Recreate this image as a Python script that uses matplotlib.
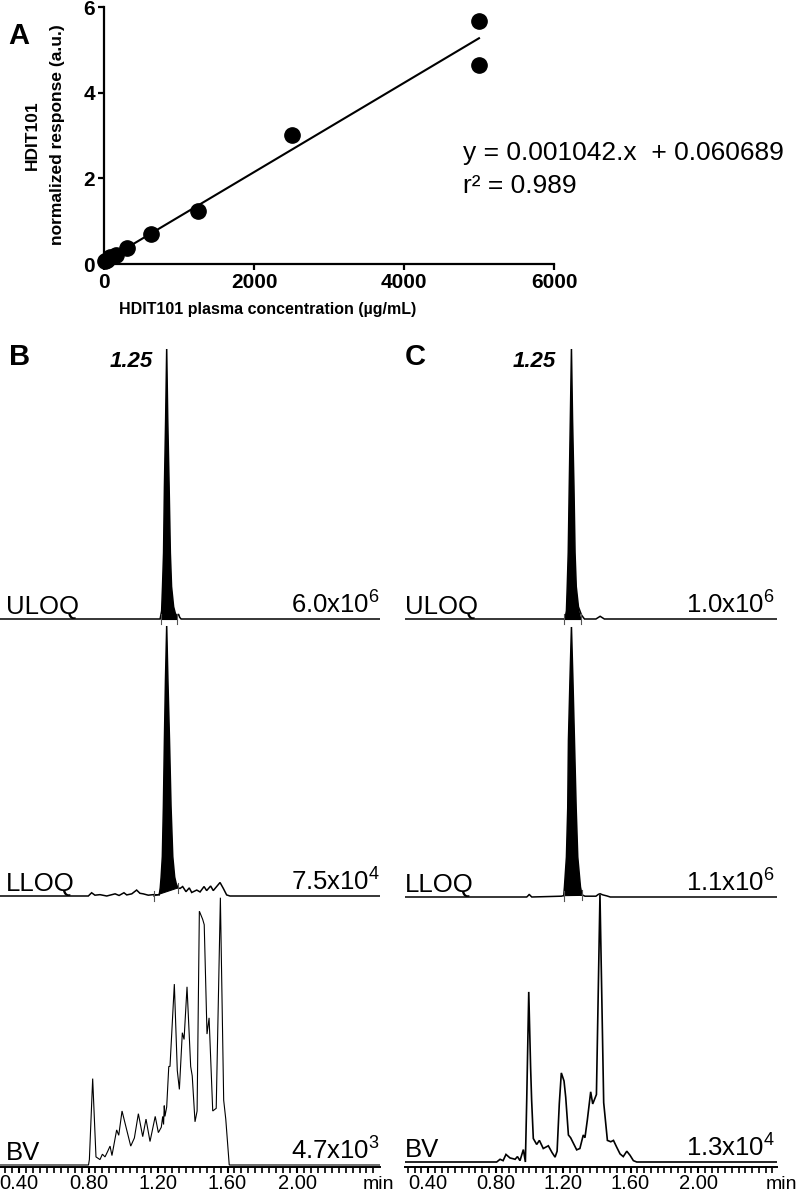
import numpy as np
import matplotlib
matplotlib.use("Agg")
import matplotlib.pyplot as plt
from matplotlib.ticker import MultipleLocator, FixedLocator

plt.rcParams['font.family'] = ['Liberation Sans', 'DejaVu Sans']
plt.rcParams['mathtext.fontset'] = 'custom'
plt.rcParams['mathtext.rm'] = 'Liberation Sans'
plt.rcParams['mathtext.it'] = 'Liberation Sans:italic'
plt.rcParams['mathtext.bf'] = 'Liberation Sans:bold'

# ---------------- Panel A data ----------------
conc = [19.5, 39, 78, 156, 312.5, 625, 1250, 2500, 5000, 5000]
resp = [0.07, 0.10, 0.16, 0.22, 0.37, 0.70, 1.24, 3.02, 5.67, 4.65]
fit_x = [0, 5000]
fit_y = [0.0607, 5.2707]
a_xticks = [0, 2000, 4000, 6000]
a_yticks = [0, 2, 4, 6]
eq_text = "y = 0.001042.x  + 0.060689"
r2_text = "r\u00b2 = 0.989"

# ---------------- Panel B chromatograms (time min, normalized intensity) ----------------
b_uloq_t = [0.29, 1.212, 1.221, 1.226, 1.232, 1.237, 1.244, 1.250, 1.256, 1.264, 1.271, 1.278,
            1.290, 1.300, 1.310, 1.318, 1.325, 1.333, 2.478]
b_uloq_h = [0, 0, 0.03, 0.12, 0.245, 0.49, 0.74, 1.0, 0.74, 0.49, 0.245, 0.12,
            0.045, 0.02, 0.012, 0.018, 0.006, 0, 0]
b_uloq_int = [1.215, 1.312]
b_uloq_base = [0.0, 0.0]

b_lloq_t = [0.29, 0.799, 0.818, 0.837, 0.866, 0.905, 0.953, 0.976, 1.004, 1.020, 1.049, 1.077,
            1.096, 1.115, 1.144, 1.173, 1.207, 1.213, 1.218, 1.225, 1.231, 1.237, 1.243, 1.250,
            1.257, 1.266, 1.275, 1.285, 1.296, 1.305, 1.315, 1.327, 1.342, 1.361, 1.380, 1.394,
            1.423, 1.442, 1.465, 1.480, 1.503, 1.518, 1.557, 1.576, 1.595, 1.614, 2.478]
b_lloq_h = [0, 0, 0.012, 0.003, 0.005, 0.0, 0.008, 0.002, 0.012, 0.004, 0.008, 0.022,
            0.01, 0.008, 0.003, 0.005, 0.004, 0.03, 0.07, 0.146, 0.33, 0.58, 0.8, 1.0,
            0.8, 0.58, 0.33, 0.146, 0.07, 0.045, 0.03, 0.028, 0.035, 0.016, 0.03, 0.013,
            0.022, 0.015, 0.035, 0.02, 0.037, 0.02, 0.05, 0.028, 0.004, 0, 0]
b_lloq_int = [1.175, 1.315]
b_lloq_base = [0.0, 0.03]

b_bv_t = [0.29, 0.800, 0.805, 0.824, 0.843, 0.866, 0.880, 0.895, 0.910, 0.924, 0.935, 0.962,
          0.974, 0.993, 1.016, 1.043, 1.064, 1.087, 1.112, 1.131, 1.154, 1.184, 1.202, 1.219,
          1.227, 1.232, 1.236, 1.240, 1.250, 1.262, 1.269, 1.294, 1.311, 1.323, 1.340, 1.350,
          1.367, 1.388, 1.397, 1.413, 1.425, 1.438, 1.457, 1.466, 1.482, 1.494, 1.515, 1.535,
          1.559, 1.578, 1.590, 1.610, 2.478]
b_bv_h = [0, 0, 0.02, 0.32, 0.03, 0.02, 0.04, 0.03, 0.05, 0.07, 0.035, 0.13,
          0.11, 0.20, 0.14, 0.07, 0.10, 0.19, 0.105, 0.17, 0.087, 0.18, 0.12, 0.14,
          0.18, 0.15, 0.22, 0.18, 0.215, 0.365, 0.365, 0.67, 0.35, 0.28, 0.49, 0.465,
          0.66, 0.365, 0.33, 0.16, 0.20, 0.94, 0.91, 0.89, 0.485, 0.545, 0.20, 0.21,
          0.99, 0.24, 0.17, 0, 0]

# ---------------- Panel C chromatograms ----------------
c_uloq_t = [0.264, 1.2115, 1.2203, 1.2251, 1.231, 1.237, 1.2435, 1.25, 1.2565, 1.2648, 1.2713,
            1.2785, 1.2915, 1.3093, 1.327, 1.395, 1.41, 1.42, 1.43, 1.445, 2.468]
c_uloq_h = [0, 0, 0.03, 0.12, 0.245, 0.49, 0.74, 1.0, 0.74, 0.49, 0.245,
            0.12, 0.045, 0.015, 0, 0, 0.006, 0.01, 0.006, 0, 0]
c_uloq_int = [1.203, 1.309]
c_uloq_base = [0.0, 0.0]

c_lloq_t = [0.264, 0.985, 0.995, 1.0, 1.005, 1.015, 1.19, 1.2043, 1.2085, 1.2203, 1.2281,
            1.2322, 1.2411, 1.25, 1.2589, 1.2678, 1.2779, 1.2874, 1.3034, 1.3129, 1.33, 1.395,
            1.41, 1.42, 1.435, 1.46, 1.48, 2.468]
c_lloq_h = [0, 0, 0.006, 0.01, 0.006, 0, 0.003, 0.005, 0.037, 0.148, 0.33,
            0.58, 0.8, 1.0, 0.8, 0.58, 0.33, 0.148, 0.037, 0.008, 0.003, 0.003,
            0.01, 0.012, 0.008, 0.004, 0, 0]
c_lloq_int = [1.205, 1.31]
c_lloq_base = [0.005, 0.006]

c_bv_t = [0.264, 0.807, 0.827, 0.845, 0.862, 0.886, 0.905, 0.916, 0.930, 0.945, 0.965, 0.977,
          0.985, 0.997, 1.008, 1.014, 1.024, 1.044, 1.060, 1.083, 1.113, 1.135, 1.153, 1.165,
          1.178, 1.190, 1.206, 1.216, 1.232, 1.245, 1.261, 1.281, 1.300, 1.320, 1.330, 1.344,
          1.364, 1.376, 1.398, 1.419, 1.441, 1.463, 1.483, 1.499, 1.518, 1.538, 1.557, 1.578,
          1.597, 1.617, 1.637, 2.468]
c_bv_h = [0, 0, 0.01, 0.005, 0.028, 0.015, 0.012, 0.01, 0.02, 0.005, 0.046, 0.0,
          0.23, 0.63, 0.35, 0.23, 0.087, 0.065, 0.08, 0.05, 0.06, 0.035, 0.018, 0.04,
          0.216, 0.33, 0.30, 0.24, 0.10, 0.09, 0.07, 0.045, 0.05, 0.10, 0.09, 0.155,
          0.26, 0.215, 0.25, 0.99, 0.22, 0.08, 0.075, 0.08, 0.055, 0.03, 0.02, 0.04,
          0.025, 0.005, 0, 0]

trace_names = ["ULOQ", "LLOQ", "BV"]
b_scales = ["6.0x10$^{6}$", "7.5x10$^{4}$", "4.7x10$^{3}$"]
c_scales = ["1.0x10$^{6}$", "1.1x10$^{6}$", "1.3x10$^{4}$"]
rt_label = "1.25"
chrom_major = [0.40, 0.80, 1.20, 1.60, 2.00]
chrom_major_labels = ["0.40", "0.80", "1.20", "1.60", "2.00"]

# ---------------- Layout helpers ----------------
W, H = 800, 1191
fig = plt.figure(figsize=(W / 100, H / 100), dpi=100)


def fx(x):
    return x / W


def fy(y):
    return 1 - y / H


def rect(x0, y0, x1, y1):
    return [fx(x0), fy(y1), (x1 - x0) / W, (y1 - y0) / H]


# ---------------- Panel A ----------------
axA = fig.add_axes(rect(104, 7, 554, 264))
axA.plot(fit_x, fit_y, color='black', lw=1.5, zorder=2)
axA.plot(conc, resp, 'o', color='black', ms=11, zorder=3, clip_on=False)
axA.set_xlim(0, 6000)
axA.set_ylim(0, 6)
axA.set_xticks(a_xticks)
axA.set_yticks(a_yticks)
for s in ['top', 'right']:
    axA.spines[s].set_visible(False)
for s in ['left', 'bottom']:
    axA.spines[s].set_linewidth(1.6)
axA.tick_params(direction='out', length=4.5, width=1.6, labelsize=15, pad=2)
for lab in axA.get_xticklabels() + axA.get_yticklabels():
    lab.set_fontweight('bold')

fig.text(fx(268), fy(314), "HDIT101 plasma concentration (\u00b5g/mL)", ha='center', va='baseline',
         fontsize=11.5, fontweight='bold')
fig.text(fx(32), fy(135), "HDIT101", rotation=90, ha='center', va='center',
         fontsize=12.5, fontweight='bold')
fig.text(fx(58), fy(135), "normalized response (a.u.)", rotation=90, ha='center', va='center',
         fontsize=12.5, fontweight='bold')
fig.text(fx(463), fy(160), eq_text, ha='left', va='baseline', fontsize=19)
fig.text(fx(463), fy(193), r2_text, ha='left', va='baseline', fontsize=19)
fig.text(fx(8), fy(44), "A", ha='left', va='baseline', fontsize=21, fontweight='bold')

# ---------------- Chromatogram panels ----------------
PXU = 270.0  # pixels per normalized unit


def chrom_panel(x0, x1, base_px, axis_px, xlim, traces, ints, scales, label_x, scale_x,
                bv_lw, min_x, rt_right, letter, letter_x):
    bv_base = base_px[2]
    ax = fig.add_axes(rect(x0, 330, x1, axis_px))
    ax.set_xlim(*xlim)
    ax.set_ylim(-(axis_px - bv_base) / PXU, (bv_base - 330) / PXU)
    offs = [(bv_base - b) / PXU for b in base_px]
    for i, ((t, h), off) in enumerate(zip(traces, offs)):
        t = np.asarray(t, float)
        h = np.asarray(h, float)
        lw = bv_lw if i == 2 else 1.1
        ax.plot(t, h + off, color='black', lw=lw, solid_joinstyle='miter', zorder=3)
        if ints[i] is not None:
            (ta, tb), (ba, bb) = ints[i]
            m = (t > ta) & (t < tb)
            px = np.r_[ta, t[m], tb]
            py = np.r_[ba, h[m], bb] + off
            ax.fill(np.r_[px, tb, ta], np.r_[py, bb + off, ba + off], color='black', lw=0, zorder=2)
            ax.plot([ta, tb], [ba + off, bb + off], color='black', lw=0.8, zorder=2)
            for tt, bbv in ((ta, ba), (tb, bb)):
                ax.plot([tt, tt], [bbv + off - 5 / PXU, bbv + off + 5 / PXU], color='#555555',
                        lw=0.8, zorder=4)
    for s in ['top', 'right', 'left']:
        ax.spines[s].set_visible(False)
    ax.spines['bottom'].set_linewidth(1.4)
    ax.set_yticks([])
    ax.xaxis.set_major_locator(FixedLocator(chrom_major))
    ax.set_xticklabels(chrom_major_labels)
    ax.xaxis.set_minor_locator(MultipleLocator(0.04))
    ax.tick_params(axis='x', which='major', direction='out', length=4.5, width=1.5,
                   labelsize=14.5, pad=0.5)
    ax.tick_params(axis='x', which='minor', direction='out', length=4, width=1.2)
    ax.patch.set_visible(False)
    for name, sc, b in zip(trace_names, scales, base_px):
        yb = b - 5
        fig.text(fx(label_x), fy(yb), name, ha='left', va='baseline', fontsize=18.5)
        fig.text(fx(scale_x), fy(yb), sc, ha='right', va='baseline', fontsize=18.5)
    fig.text(fx(min_x), fy(1189), "min", ha='left', va='baseline', fontsize=14)
    fig.text(fx(rt_right), fy(367), rt_label, ha='right', va='baseline', fontsize=16,
             fontweight='bold', fontstyle='italic')
    fig.text(fx(letter_x), fy(365), letter, ha='left', va='baseline', fontsize=21,
             fontweight='bold')
    return ax


chrom_panel(0, 380, [619, 896, 1165], 1167, (0.2906, 2.4777),
            [(b_uloq_t, b_uloq_h), (b_lloq_t, b_lloq_h), (b_bv_t, b_bv_h)],
            [(b_uloq_int, b_uloq_base), (b_lloq_int, b_lloq_base), None],
            b_scales, 6, 380, 0.8, 363, 153, "B", 9)

chrom_panel(405, 777, [619, 897, 1162], 1167, (0.2637, 2.468),
            [(c_uloq_t, c_uloq_h), (c_lloq_t, c_lloq_h), (c_bv_t, c_bv_h)],
            [(c_uloq_int, c_uloq_base), (c_lloq_int, c_lloq_base), None],
            c_scales, 405, 775, 1.2, 766, 556, "C", 405)

fig.savefig("out.png", dpi=100)
